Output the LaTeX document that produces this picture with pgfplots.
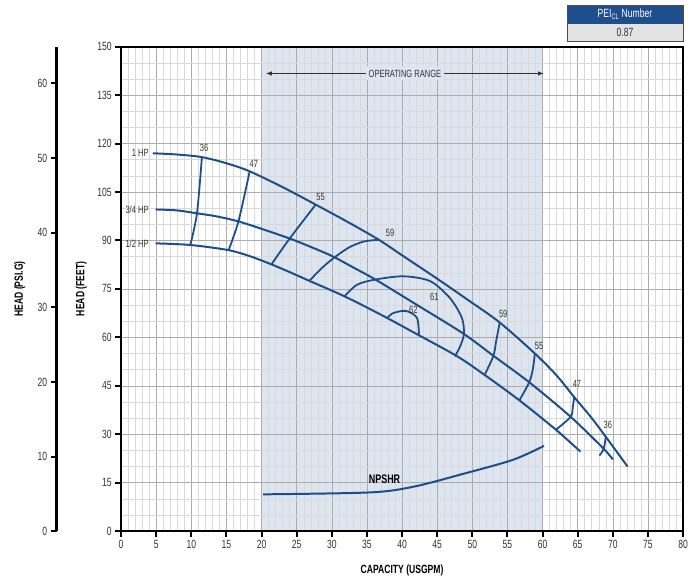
\documentclass[border=0pt]{standalone}
\usepackage{fontspec}
\setmainfont{Liberation Sans}[FakeStretch=0.72]
\usepackage{pgfplots}
\pgfplotsset{compat=1.18}
\usetikzlibrary{arrows.meta}
\definecolor{curve}{HTML}{1D4E89}
\definecolor{oprange}{HTML}{DCE5F0}
\definecolor{peiblue}{HTML}{1F4E8C}
\definecolor{lbl}{HTML}{333333}

\begin{document}
\begin{tikzpicture}
% PSI axis
\begin{axis}[at={(-65pt,0pt)}, anchor=south west, scale only axis,
  width=1pt, height=488pt, xmin=0, xmax=1, ymin=0, ymax=64.935,
  hide x axis, axis y line*=left, axis line style={-, line width=2.2pt, black},
  ytick={0,10,...,60}, tick align=outside, major tick length=6pt,
  major tick style={line width=2pt, black},
  yticklabel style={font=\fontsize{12}{12}\selectfont, text=lbl},
  /pgf/number format/assume math mode=true,
  ylabel={\textbf{HEAD (PSI.G)}},
  every axis y label/.style={at={(axis description cs:-37,0.5)}, rotate=90, anchor=center, font=\fontsize{12}{12}\selectfont},
]
\end{axis}
% main axis
\begin{axis}[at={(0pt,0pt)}, anchor=south west, scale only axis,
  width=566pt, height=488pt, xmin=0, xmax=80, ymin=0, ymax=150,
  set layers,
  xtick={0,5,...,80}, ytick={0,15,...,150},
  minor x tick num=4, minor y tick num=2,
  grid=both,
  major grid style={gray!65, line width=0.6pt},
  minor grid style={gray!30, line width=0.5pt},
  minor tick length=0pt, tick align=outside, tick pos=left,
  major tick length=6pt,
  major tick style={line width=2pt, black},
  axis line style={line width=2pt, black},
  ticklabel style={font=\fontsize{12}{12}\selectfont, text=lbl},
  /pgf/number format/assume math mode=true,
  xlabel={\textbf{CAPACITY (USGPM)}},
  ylabel={\textbf{HEAD (FEET)}},
  every axis y label/.style={at={(axis description cs:-0.0707,0.5)}, rotate=90, anchor=center, font=\fontsize{12}{12}\selectfont},
  every axis x label/.style={at={(axis description cs:0.5,-0.082)}, anchor=center, font=\fontsize{12}{12}\selectfont},
]
% operating range background
\addplot[draw=none, fill=oprange, on layer=axis background] coordinates {(20,0) (20,150) (60,150) (60,0)} \closedcycle;

% head curves
\addplot[curve, line width=2pt, smooth] coordinates {(4.5,117) (8,116.6) (11.5,115.8) (15,113.9) (18.3,111.4) (23,106.5) (27.7,101.1) (32.2,95.8) (36.7,90.2) (40,85.4) (44.9,78.3) (49.5,71.4) (53.9,64.6) (58.9,55.0) (62,48.2) (64.5,41.5) (67,35) (69,29.2) (72.1,20)};
\addplot[curve, line width=2pt, smooth] coordinates {(4.9,99.6) (8,99.3) (10.8,98.4) (13.5,97.5) (16.7,95.9) (20,93.6) (24,90.6) (27,88) (30.1,85.1) (33,81.7) (36.2,77.9) (42,70.2) (48.7,61.2) (53,54.3) (58.1,46.1) (64,35.4) (68.7,25.5) (70,22.2)};
\addplot[curve, line width=2pt, smooth] coordinates {(4.9,89.1) (9.85,88.6) (15.3,87.0) (18.5,85.0) (21.4,82.6) (24,80.2) (26.8,77.5) (31.8,72.7) (37,67) (42.1,61) (47.8,54.2) (51.6,48.6) (56.7,40.5) (61.9,31.4) (65.4,24.6)};

% efficiency lines
\addplot[curve, line width=1.8pt, smooth] coordinates {(11.5,115.8) (10.8,98.4) (9.85,88.6)};
\addplot[curve, line width=1.8pt, smooth] coordinates {(18.3,111.4) (16.7,95.9) (15.3,87.0)};
\addplot[curve, line width=1.8pt, smooth] coordinates {(27.7,101.1) (24,90.6) (21.4,82.6)};
\addplot[curve, line width=1.8pt, smooth] coordinates {(36.7,90.2) (34.6,89.7) (32.5,87.9) (30.4,84.8) (28.6,81.5) (26.8,77.5)};
\addplot[curve, line width=1.8pt, smooth] coordinates {(53.9,64.6) (53.4,58.9) (53,54.3) (51.8,48.6)};
\addplot[curve, line width=1.8pt, smooth] coordinates {(58.9,55.0) (58.6,50) (58.1,46.1) (56.7,40.5)};
\addplot[curve, line width=1.8pt, smooth] coordinates {(64.5,41.5) (64.3,38.4) (64,35.4) (61.9,31.4)};
\addplot[curve, line width=1.8pt, smooth] coordinates {(69,29.2) (68.7,25.5) (68.1,23.4)};
\addplot[curve, line width=1.8pt, smooth] coordinates {(31.8,72.7) (33.6,76.3) (36.2,77.9) (40.2,78.9) (44,77.4) (46.8,72.2) (48.5,66.1) (48.8,61) (48.2,56.9) (47.5,54.1)};
\addplot[curve, line width=1.8pt, smooth] coordinates {(37.9,65.9) (38.6,67.4) (40.5,68.2) (42.1,66.1) (42.4,61)};

% NPSHR
\addplot[curve, line width=2pt, smooth] coordinates {(20.2,11.4) (35.5,12.0) (41.7,13.8) (48.8,17.8) (55.8,22.1) (60.2,26.4)};
\node[font=\bfseries\fontsize{12.5}{12.5}\selectfont, text=black] at (axis cs:37.5,16) {NPSHR};

% labels
\begin{scope}[every node/.style={font=\fontsize{10.5}{10.5}\selectfont, text=lbl}]
\node[anchor=east] at (axis cs:4.4,117) {1 HP};
\node[anchor=east] at (axis cs:4.4,99.6) {3/4 HP};
\node[anchor=east] at (axis cs:4.4,89.1) {1/2 HP};
\node at (axis cs:11.8,118.8) {36};
\node at (axis cs:18.9,113.6) {47};
\node at (axis cs:28.4,103.6) {55};
\node at (axis cs:38.3,92.4) {59};
\node at (axis cs:44.6,72.5) {61};
\node at (axis cs:41.6,68.6) {62};
\node at (axis cs:54.4,67.2) {59};
\node at (axis cs:59.5,57.4) {55};
\node at (axis cs:64.9,45.5) {47};
\node at (axis cs:69.3,33) {36};
\end{scope}

% operating range arrow
\draw[{Latex[length=6pt]}-{Latex[length=6pt]}, line width=0.9pt, black!80] (axis cs:20.6,141.7) -- (axis cs:60.2,141.7);
\node[fill=oprange, inner xsep=3pt, font=\fontsize{10.5}{10.5}\selectfont, text=lbl] at (axis cs:40.4,141.7) {OPERATING RANGE};
\end{axis}
% PEI box
\fill[peiblue] (449pt,511pt) rectangle (566pt,530pt);
\fill[gray!22] (449pt,493pt) rectangle (566pt,511pt);
\draw[gray!60!black, line width=0.6pt] (449pt,493pt) rectangle (566pt,530pt);
\node[text=white, font=\fontsize{12}{12}\selectfont] at (507.5pt,520.5pt) {PEI\textsubscript{CL} Number};
\node[text=lbl, font=\fontsize{12}{12}\selectfont] at (507.5pt,502pt) {0.87};
\pgfresetboundingbox
\useasboundingbox (-122pt,-52pt) rectangle (574pt,535pt);
\end{tikzpicture}
\end{document}
